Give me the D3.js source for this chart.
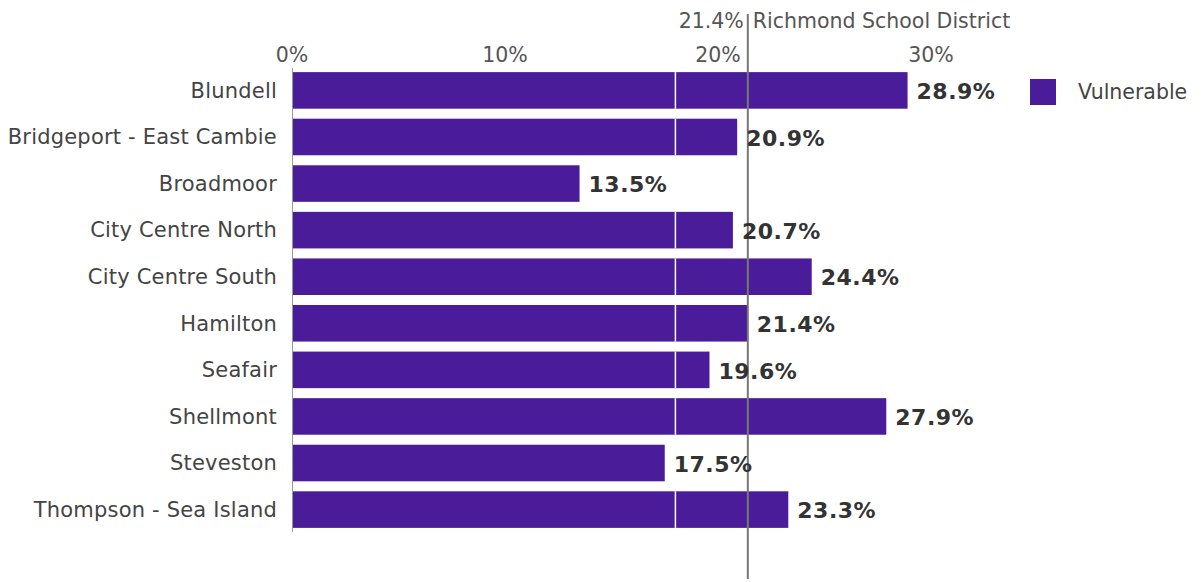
<!DOCTYPE html>
<html>
<head>
<meta charset="utf-8">
<script src="https://cdn.jsdelivr.net/npm/d3@7"></script>
<style>
  body { margin: 0; background: #fff; }
  text { font-family: "DejaVu Sans", Verdana, sans-serif; }
</style>
</head>
<body>
<div id="chart"></div>
<script>
const areas = ["Blundell", "Bridgeport - East Cambie", "Broadmoor", "City Centre North",
  "City Centre South", "Hamilton", "Seafair", "Shellmont", "Steveston", "Thompson - Sea Island"];
const vulnerable = [28.9, 20.9, 13.5, 20.7, 24.4, 21.4, 19.6, 27.9, 17.5, 23.3];
const xTicks = [0, 10, 20, 30];
const districtValue = 21.4;
const districtName = "Richmond School District";
const seamAt = 18; // white seam visible through the bars

const W = 1202, H = 582;
const margin = {top: 72, left: 292};

const svg = d3.select("#chart").append("svg")
  .attr("width", W)
  .attr("height", H);

const x = d3.scaleLinear().domain([0, 30]).range([margin.left, margin.left + 639]);
const y = d3.scaleBand().domain(areas).range([67, 533]).paddingInner(0.215).paddingOuter(0.11);

// top tick labels
svg.append("g")
  .selectAll("text")
  .data(xTicks)
  .enter().append("text")
    .attr("x", d => x(d))
    .attr("y", 62)
    .attr("text-anchor", "middle")
    .attr("font-size", 20.5)
    .attr("fill", "#555")
    .text(d => d + "%");

// left axis line
svg.append("line")
  .attr("x1", x(0) + 0.5).attr("x2", x(0) + 0.5)
  .attr("y1", 68).attr("y2", 532)
  .attr("stroke", "#999")
  .attr("stroke-width", 1);

// bars
svg.append("g")
  .selectAll("rect")
  .data(areas)
  .enter().append("rect")
    .attr("x", x(0) + 1)
    .attr("y", d => y(d))
    .attr("width", (d, i) => x(vulnerable[i]) - x(0) - 1)
    .attr("height", y.bandwidth())
    .attr("fill", "#4b1c99");

// seam
svg.append("g")
  .selectAll("line")
  .data(areas.filter((d, i) => vulnerable[i] > seamAt))
  .enter().append("line")
    .attr("x1", x(seamAt)).attr("x2", x(seamAt))
    .attr("y1", d => y(d)).attr("y2", d => y(d) + y.bandwidth())
    .attr("stroke", "#fff")
    .attr("stroke-width", 1.5);

// category labels
svg.append("g")
  .selectAll("text")
  .data(areas)
  .enter().append("text")
    .attr("x", 277)
    .attr("y", d => y(d) + y.bandwidth() / 2)
    .attr("dy", "0.35em")
    .attr("text-anchor", "end")
    .attr("font-size", 21)
    .attr("letter-spacing", 0.2)
    .attr("fill", "#444")
    .text(d => d);

// reference line
svg.append("line")
  .attr("x1", x(districtValue)).attr("x2", x(districtValue))
  .attr("y1", 14).attr("y2", 579)
  .attr("stroke", "#777")
  .attr("stroke-width", 2);

// value labels
svg.append("g")
  .selectAll("text")
  .data(areas)
  .enter().append("text")
    .attr("x", (d, i) => x(vulnerable[i]) + 9)
    .attr("y", d => y(d) + y.bandwidth() / 2 + 1)
    .attr("dy", "0.35em")
    .attr("font-size", 22)
    .attr("letter-spacing", 0.5)
    .attr("font-weight", "bold")
    .attr("fill", "#333")
    .text((d, i) => vulnerable[i].toFixed(1) + "%");

// district label
svg.append("text")
  .attr("x", x(districtValue) - 4)
  .attr("y", 28)
  .attr("text-anchor", "end")
  .attr("font-size", 20.5)
  .attr("fill", "#555")
  .text(districtValue + "%");
svg.append("text")
  .attr("x", x(districtValue) + 5)
  .attr("y", 28)
  .attr("font-size", 20.5)
  .attr("fill", "#555")
  .text(districtName);

// legend
svg.append("rect")
  .attr("x", 1030).attr("y", 79)
  .attr("width", 26).attr("height", 26)
  .attr("fill", "#4b1c99");
svg.append("text")
  .attr("x", 1078).attr("y", 92)
  .attr("dy", "0.35em")
  .attr("font-size", 20.5)
  .attr("fill", "#444")
  .text("Vulnerable");
</script>
</body>
</html>
